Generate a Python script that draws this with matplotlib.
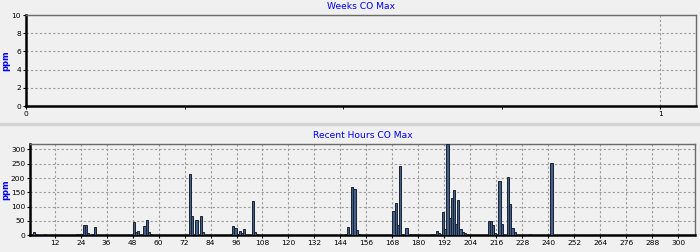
import matplotlib
matplotlib.use("Agg")
import matplotlib.pyplot as plt
from matplotlib.lines import Line2D

# ---- data ----
week_ticks = [0, 1]
week_yticks = [0, 2, 4, 6, 8, 10]

hours = [2, 3, 7, 22, 23, 24, 25, 26, 27, 29, 30, 48, 49, 50, 53, 54, 55, 56,
         74, 75, 77, 79, 80, 93, 94, 95, 96, 97, 98, 99, 103, 104, 105,
         146, 147, 149, 150, 151, 152, 168, 169, 170, 171, 172, 174, 176, 178,
         186, 188, 189, 191, 192, 193, 194, 195, 196, 197, 198, 199, 200, 201, 202,
         212, 213, 214, 215, 217, 218, 221, 222, 223, 224, 231, 241]
co_max = [10, 5, 3, 3, 3, 5, 35, 35, 8, 3, 30, 48, 12, 15, 31, 52, 12, 5,
          213, 69, 54, 69, 10, 5, 33, 27, 5, 14, 8, 22, 121, 13, 5,
          5, 28, 168, 162, 19, 5, 86, 114, 36, 243, 5, 24, 3, 3,
          4, 16, 8, 83, 21, 319, 62, 130, 159, 40, 125, 22, 12, 7, 4,
          51, 51, 36, 8, 188, 38, 202, 110, 26, 13, 5, 252]
hour_ticks = list(range(12, 301, 12))
hour_yticks = [0, 50, 100, 150, 200, 250, 300]

BG = "#f0f0f0"
BLUE = "#0000ee"
GRID = dict(color="#9a9a9a", linestyle=(0, (2, 2)), linewidth=0.8)

fig = plt.figure(figsize=(7.0, 2.52), dpi=100)
fig.patch.set_facecolor(BG)

# separator band between panels
fig.add_artist(Line2D([0, 1], [1 - 123.5 / 252] * 2, color="#d4d4d4", linewidth=2.5,
                      transform=fig.transFigure))

def style(ax):
    ax.set_facecolor(BG)
    for s in ("left", "bottom"):
        ax.spines[s].set_color("black")
        ax.spines[s].set_linewidth(1.8)
    for s in ("top", "right"):
        ax.spines[s].set_color("#6a6a6a")
        ax.spines[s].set_linewidth(1.0)
    ax.tick_params(labelsize=5.4, length=2, width=0.8, pad=1.5, colors="black")
    ax.set_ylabel("ppm", color=BLUE, fontsize=6, fontweight="bold", labelpad=2)

# ---- top: Weeks CO Max ----
ax1 = fig.add_axes([26 / 700, 1 - 106 / 252, 670 / 700, 91 / 252])
style(ax1)
ax1.set_xlim(0, 1.056)
ax1.set_ylim(0, 10)
ax1.set_xticks(week_ticks)
ax1.set_xticks([0.25, 0.5, 0.75], minor=True)
ax1.tick_params(axis="x", which="minor", length=2)
ax1.set_yticks(week_yticks)
ax1.grid(True, axis="y", **GRID)
ax1.axvline(1, **GRID)
ax1.set_title("Weeks CO Max", color=BLUE, fontsize=6.6, pad=4)
ax1.yaxis.set_label_coords(-(26 - 10) / 670, 0.5)

# ---- bottom: Recent Hours CO Max ----
ax2 = fig.add_axes([30 / 700, 1 - 235.3 / 252, 665 / 700, 91.3 / 252])
style(ax2)
ax2.bar(hours, co_max, width=1.0, align="edge", color="#44608a",
        edgecolor="#18212f", linewidth=0.7, zorder=3)
ax2.set_xlim(0.6, 307.8)
ax2.set_ylim(0, 319)
ax2.set_xticks(hour_ticks)
ax2.set_yticks(hour_yticks)
ax2.grid(True, **GRID)
ax2.set_axisbelow(True)
ax2.set_title("Recent Hours CO Max", color=BLUE, fontsize=6.6, pad=4)
ax2.yaxis.set_label_coords(-(30 - 10) / 665, 0.5)

fig.savefig("out.png", dpi=100, facecolor=BG)
